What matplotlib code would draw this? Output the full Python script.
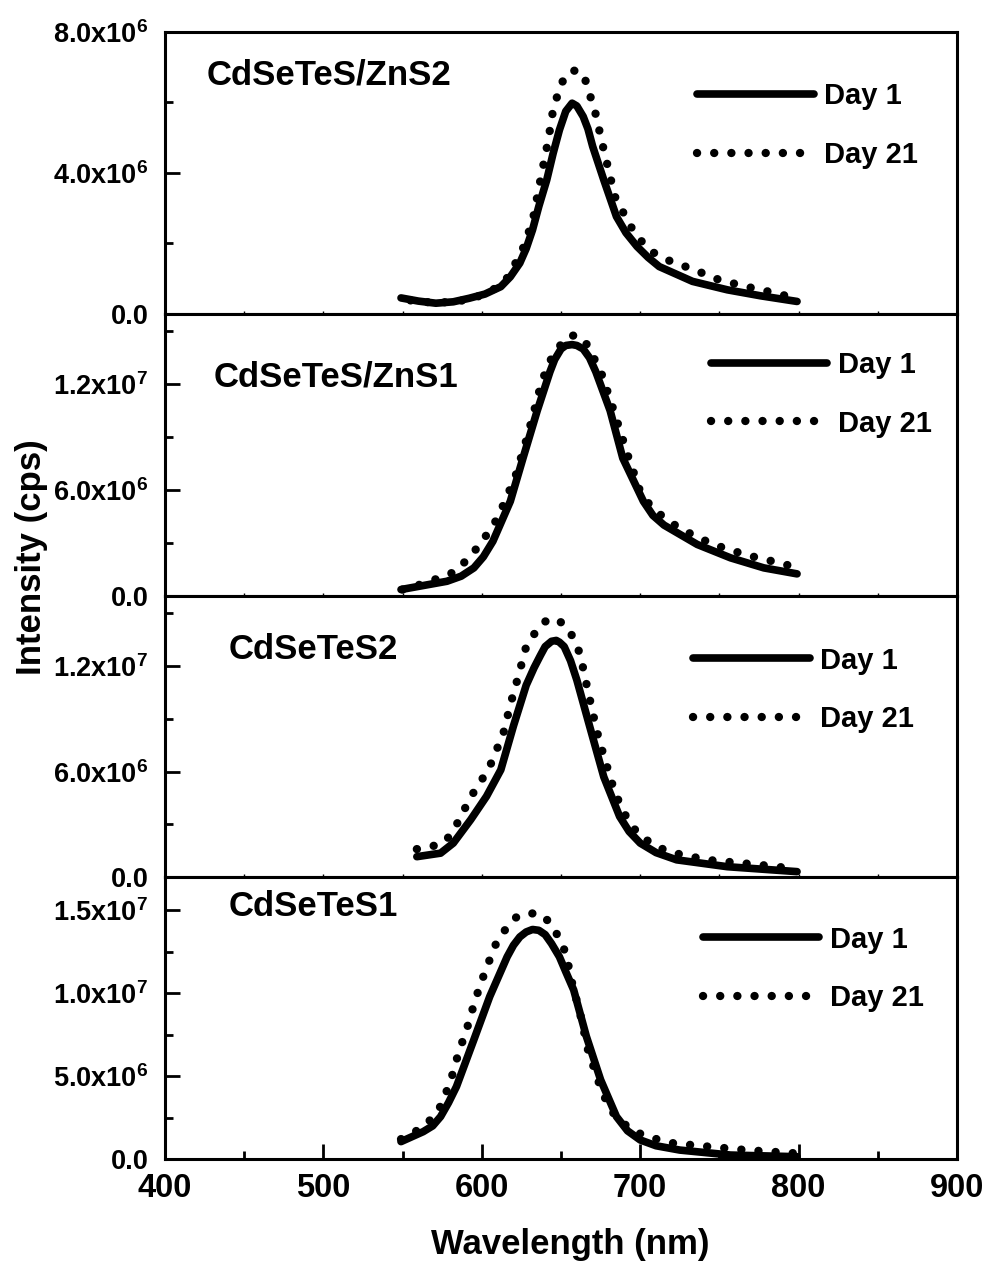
import matplotlib
matplotlib.use("Agg")
import matplotlib.pyplot as plt
from matplotlib.ticker import MultipleLocator

plt.rcParams['font.family'] = ['Liberation Sans', 'DejaVu Sans']
plt.rcParams['font.weight'] = 'bold'
plt.rcParams['mathtext.fontset'] = 'custom'
plt.rcParams['mathtext.rm'] = 'Liberation Sans:bold'
plt.rcParams['mathtext.bf'] = 'Liberation Sans:bold'
plt.rcParams['mathtext.it'] = 'Liberation Sans:bold'

# --- data ---
samples = ["CdSeTeS/ZnS2", "CdSeTeS/ZnS1", "CdSeTeS2", "CdSeTeS1"]
series_labels = ["Day 1", "Day 21"]

zns2_wl_d1 = [549, 560, 571, 582, 592, 602, 612, 618, 624, 628, 632, 636, 641, 645, 649, 653, 657, 660, 664, 667,
              670, 677, 685, 691, 698, 705, 712, 733, 755, 776, 799]
zns2_d1 = [4.5e5, 3.6e5, 3.0e5, 3.4e5, 4.4e5, 5.6e5, 7.7e5, 1.05e6, 1.44e6, 1.85e6, 2.38e6, 3.05e6, 3.8e6, 4.55e6,
           5.22e6, 5.75e6, 5.98e6, 5.9e6, 5.6e6, 5.25e6, 4.75e6, 3.8e6, 2.76e6, 2.3e6, 1.91e6, 1.6e6, 1.34e6,
           9.2e5, 6.8e5, 5.1e5, 3.5e5]
zns2_wl_d21 = [555, 570, 585, 597, 609, 617, 626, 632, 637, 642, 645, 650, 657, 664, 667, 672, 676, 680, 684, 689,
               694, 700, 707, 717, 734, 750, 767, 780, 793, 800]
zns2_d21 = [3.8e5, 3.1e5, 3.5e5, 4.8e5, 7.3e5, 1.06e6, 1.86e6, 2.62e6, 3.8e6, 4.94e6, 5.79e6, 6.54e6, 6.92e6, 6.83e6,
            6.4e6, 5.65e6, 4.84e6, 4.09e6, 3.33e6, 2.9e6, 2.48e6, 2.1e6, 1.77e6, 1.53e6, 1.25e6, 9.6e5, 7.7e5,
            6.4e5, 5.0e5, 4.3e5]

zns1_wl_d1 = [549, 578, 587, 595, 601, 607, 618, 626, 635, 643, 646, 650, 653, 657, 660, 664, 668, 672, 681, 689,
              702, 708, 715, 736, 757, 778, 799]
zns1_d1 = [3.4e5, 8.1e5, 1.1e6, 1.57e6, 2.2e6, 3.08e6, 5.35e6, 7.8e6, 1.05e7, 1.27e7, 1.34e7, 1.40e7, 1.42e7,
           1.425e7, 1.42e7, 1.40e7, 1.35e7, 1.27e7, 1.05e7, 7.8e6, 5.35e6, 4.55e6, 4.0e6, 2.9e6, 2.14e6, 1.57e6,
           1.23e6]
zns1_wl_d21 = [550, 565, 584, 599, 610, 621, 629, 638, 645, 654, 660, 667, 676, 684, 692, 700, 708, 725, 746, 767, 792, 798]
zns1_d21 = [3.4e5, 7.2e5, 1.38e6, 2.9e6, 4.4e6, 6.7e6, 9.1e6, 1.22e7, 1.37e7, 1.47e7, 1.48e7, 1.42e7, 1.25e7,
            1.03e7, 8.0e6, 5.9e6, 4.9e6, 3.8e6, 2.9e6, 2.3e6, 1.76e6, 1.55e6]

cts2_wl_d1 = [559, 574, 582, 593, 603, 612, 620, 628, 633, 637, 640, 644, 647, 649, 652, 656, 660, 668, 677, 687,
              693, 700, 710, 723, 755, 799]
cts2_d1 = [1.17e6, 1.37e6, 1.94e6, 3.27e6, 4.6e6, 6.1e6, 8.6e6, 1.09e7, 1.19e7, 1.26e7, 1.31e7, 1.34e7, 1.345e7,
           1.335e7, 1.31e7, 1.23e7, 1.12e7, 8.6e6, 5.7e6, 3.45e6, 2.6e6, 1.94e6, 1.4e6, 9.9e5, 6.0e5, 3.2e5]
cts2_wl_d21 = [559, 567, 577, 583, 592, 597, 603, 607, 614, 618, 623, 628, 633, 639, 647, 655, 662, 666, 670, 674,
               679, 684, 692, 700, 717, 742, 776, 795]
cts2_d21 = [1.6e6, 1.7e6, 2.03e6, 2.8e6, 4.37e6, 5.16e6, 5.93e6, 6.69e6, 8.3e6, 9.8e6, 1.14e7, 1.31e7, 1.38e7,
            1.45e7, 1.47e7, 1.41e7, 1.27e7, 1.10e7, 9.35e6, 7.8e6, 6.3e6, 4.8e6, 3.27e6, 2.31e6, 1.46e6, 9.9e5,
            7.0e5, 5.1e5]

cts1_wl_d1 = [549, 563, 569, 574, 579, 584, 595, 605, 616, 620, 624, 628, 632, 636, 640, 644, 649, 653, 658, 666,
              675, 685, 692, 700, 710, 725, 757, 799]
cts1_d1 = [1.05e6, 1.65e6, 2.0e6, 2.56e6, 3.4e6, 4.37e6, 7.2e6, 9.8e6, 1.22e7, 1.29e7, 1.34e7, 1.37e7, 1.385e7,
           1.38e7, 1.354e7, 1.3e7, 1.22e7, 1.13e7, 1.02e7, 7.4e6, 4.78e6, 2.56e6, 1.7e6, 1.15e6, 8.0e5, 5.4e5,
           2.4e5, 1.4e5]
cts1_wl_d21 = [549, 558, 566, 573, 580, 585, 591, 596, 602, 609, 614, 621, 629, 638, 645, 653, 657, 662, 667, 674,
               680, 686, 695, 704, 721, 744, 767, 799]
cts1_d21 = [1.2e6, 1.65e6, 2.2e6, 3.0e6, 4.6e6, 6.3e6, 8.0e6, 9.65e6, 1.13e7, 1.30e7, 1.374e7, 1.455e7, 1.485e7,
            1.475e7, 1.404e7, 1.244e7, 1.062e7, 8.8e6, 6.6e6, 4.58e6, 3.16e6, 2.4e6, 1.75e6, 1.35e6, 9.5e5, 7.4e5,
            5.4e5, 3.4e5]

day1_wl = [zns2_wl_d1, zns1_wl_d1, cts2_wl_d1, cts1_wl_d1]
day1_int = [zns2_d1, zns1_d1, cts2_d1, cts1_d1]
day21_wl = [zns2_wl_d21, zns1_wl_d21, cts2_wl_d21, cts1_wl_d21]
day21_int = [zns2_d21, zns1_d21, cts2_d21, cts1_d21]

y_max = [8.0e6, 1.6e7, 1.6e7, 1.7e7]
y_ticks = [[0, 4e6, 8e6], [0, 6e6, 1.2e7], [0, 6e6, 1.2e7], [0, 5e6, 1e7, 1.5e7]]
y_ticklabels = [
    ["0.0", "4.0x10$^{6}$", "8.0x10$^{6}$"],
    ["0.0", "6.0x10$^{6}$", "1.2x10$^{7}$"],
    ["0.0", "6.0x10$^{6}$", "1.2x10$^{7}$"],
    ["0.0", "5.0x10$^{6}$", "1.0x10$^{7}$", "1.5x10$^{7}$"],
]
y_minor = [2e6, 3e6, 3e6, 2.5e6]
x_ticks = [400, 500, 600, 700, 800, 900]

# layout per panel (axes fraction)
title_pos = [(0.053, 0.847), (0.061, 0.776), (0.080, 0.808), (0.080, 0.897)]
legend_pos = [(0.672, 0.668), (0.689, 0.714), (0.667, 0.665), (0.679, 0.675)]

fig, axes = plt.subplots(4, 1, sharex=True, figsize=(9.89, 12.66), dpi=100)
fig.subplots_adjust(left=0.1668, right=0.9677, bottom=0.0845, top=0.9747, hspace=0)

for i, ax in enumerate(axes):
    ax.plot(day1_wl[i], day1_int[i], color='black', lw=5.5, solid_capstyle='round',
            solid_joinstyle='round', label=series_labels[0])
    ax.plot(day21_wl[i], day21_int[i], color='black', lw=6, linestyle=(0, (0.01, 2.05)),
            dash_capstyle='round', label=series_labels[1])
    ax.set_xlim(400, 900)
    ax.set_ylim(0, y_max[i])
    ax.set_yticks(y_ticks[i])
    ax.set_yticklabels(y_ticklabels[i], fontsize=19.5, fontweight='bold')
    ax.yaxis.set_minor_locator(MultipleLocator(y_minor[i]))
    ax.xaxis.set_minor_locator(MultipleLocator(50))
    ax.tick_params(axis='y', which='major', direction='in', length=11, width=2, pad=12)
    ax.tick_params(axis='y', which='minor', direction='in', length=6, width=2)
    if i < 3:
        ax.tick_params(axis='x', which='both', direction='in', length=2, width=1)
    else:
        ax.set_xticks(x_ticks)
        ax.tick_params(axis='x', which='major', direction='in', length=11, width=2, pad=10, labelsize=23.5)
        ax.tick_params(axis='x', which='minor', direction='in', length=6, width=2)
    for s in ax.spines.values():
        s.set_linewidth(2.2)
    ax.text(title_pos[i][0], title_pos[i][1], samples[i], transform=ax.transAxes,
            fontsize=25, fontweight='bold', va='center', ha='left')
    ax.legend(loc='center left', bbox_to_anchor=legend_pos[i], frameon=False, fontsize=21,
              handlelength=4.0, handletextpad=0.35, labelspacing=1.05, borderpad=0, borderaxespad=0)

fig.text(0.577, 0.0166, "Wavelength (nm)", fontsize=25, fontweight='bold', ha='center', va='center')
fig.text(0.032, 0.56, "Intensity (cps)", fontsize=25, fontweight='bold', rotation=90,
         ha='center', va='center')

plt.savefig("out.png", dpi=100)
